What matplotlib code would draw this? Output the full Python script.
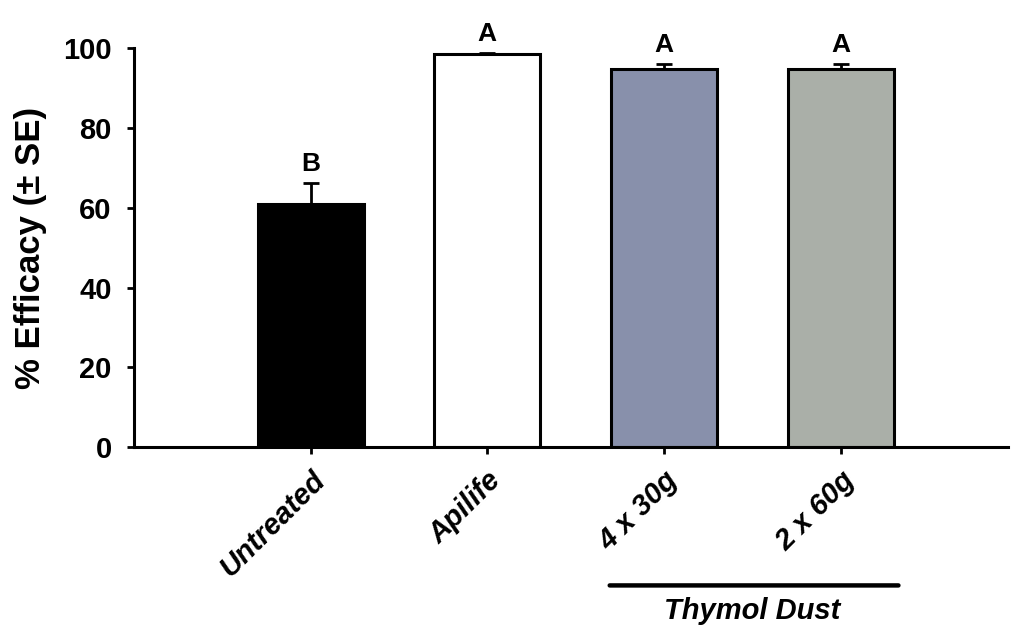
import numpy as np
from matplotlib import pyplot as plt

plt.rcParams['font.family'] = ['Liberation Sans', 'DejaVu Sans']

# Data
treatments = ["Untreated", "Apilife", "4 x 30g", "2 x 60g"]
efficacy = [61.0, 98.5, 94.8, 94.8]
se = [5.3, 0.3, 1.2, 1.2]
letters = ["B", "A", "A", "A"]
bar_colors = ["#000000", "#ffffff", "#8890ab", "#aaafa8"]
y_ticks = [0, 20, 40, 60, 80, 100]

fig = plt.figure(figsize=(10.11, 6.27), dpi=100)
ax = fig.add_axes([0.1325, 0.287, 0.865, 0.636])

x = np.arange(len(treatments))
ax.bar(x, efficacy, width=0.6, color=bar_colors, edgecolor="black",
       linewidth=2.2, zorder=2)
ax.errorbar(x, efficacy, yerr=[np.zeros(len(se)), se], fmt="none",
            ecolor="black", elinewidth=2, capsize=6, capthick=2, zorder=3)

# significance letters
for xi, v, e, lab in zip(x, efficacy, se, letters):
    ax.text(xi, v + e + 4.8, lab, ha="center", va="center",
            fontsize=19, fontweight="bold")

ax.set_xlim(-1.0, 3.95)
ax.set_ylim(0, 100)
ax.set_yticks(y_ticks)
ax.set_yticklabels([str(t) for t in y_ticks], fontsize=21, fontweight="bold")
ax.set_xticks(x)
ax.set_xticklabels(treatments, rotation=45, ha="right", rotation_mode="anchor",
                   fontsize=21, fontweight="bold", fontstyle="italic")
ax.tick_params(axis="y", direction="out", length=5, width=2, pad=11)
ax.tick_params(axis="x", direction="out", length=5, width=2, pad=9)

for s in ["top", "right"]:
    ax.spines[s].set_visible(False)
for s in ["left", "bottom"]:
    ax.spines[s].set_linewidth(2.2)

ax.set_ylabel("% Efficacy (± SE)", fontsize=25, fontweight="bold")
ax.yaxis.set_label_coords(-0.0995, 0.5)

# group bracket under the thymol dust treatments
ax.annotate("", xy=(1.677, -34.7), xytext=(3.343, -34.7), xycoords="data",
            arrowprops=dict(arrowstyle="-", lw=3.2, color="black"),
            annotation_clip=False)
ax.text(2.50, -41.0, "Thymol Dust", ha="center", va="center", fontsize=21,
        fontweight="bold", fontstyle="italic", clip_on=False)

fig.savefig("out.png", dpi=100)
